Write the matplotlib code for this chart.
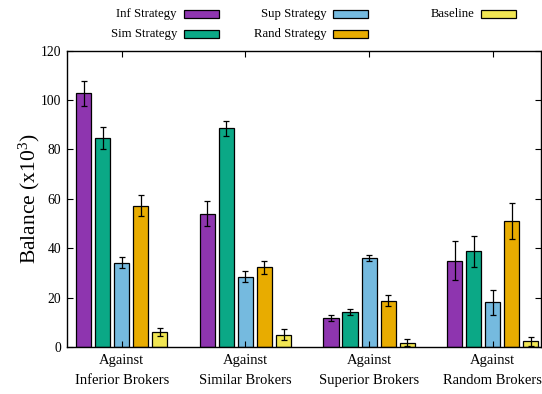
import numpy as np
import matplotlib
matplotlib.use("Agg")
import matplotlib.pyplot as plt
from matplotlib.patches import Rectangle

plt.rcParams["font.family"] = "Liberation Serif"
plt.rcParams["mathtext.fontset"] = "custom"
plt.rcParams["mathtext.rm"] = "Liberation Serif"
plt.rcParams["mathtext.it"] = "Liberation Serif:italic"

groups = ["Against\nInferior Brokers", "Against\nSimilar Brokers",
          "Against\nSuperior Brokers", "Against\nRandom Brokers"]
strategies = ["Inf Strategy", "Sim Strategy", "Sup Strategy", "Rand Strategy", "Baseline"]
colors = ["#8E35AF", "#0BA886", "#75BADF", "#E8AC00", "#F1E653"]

# balance per strategy (x10^3), one value per opponent group
inf_vals = [102.7, 54.0, 11.8, 35.0]
sim_vals = [84.5, 88.5, 14.2, 38.8]
sup_vals = [34.1, 28.4, 36.1, 18.1]
rand_vals = [57.2, 32.2, 18.7, 51.0]
base_vals = [6.1, 5.0, 1.8, 2.3]

inf_err = [5.0, 5.0, 1.2, 7.9]
sim_err = [4.4, 3.0, 1.1, 6.3]
sup_err = [2.3, 2.2, 1.3, 5.1]
rand_err = [4.2, 2.8, 2.2, 7.2]
base_err = [1.6, 2.3, 1.3, 1.7]

values = [inf_vals, sim_vals, sup_vals, rand_vals, base_vals]
errors = [inf_err, sim_err, sup_err, rand_err, base_err]

fig = plt.figure(figsize=(5.42, 3.94), dpi=100)
ax = fig.add_axes([0.1236, 0.1193, 0.8745, 0.7525])

x = np.arange(len(groups))
pitch = 0.154
width = 0.122
for i in range(len(strategies)):
    ax.bar(x + (i - 2) * pitch, values[i], width, color=colors[i],
           edgecolor="black", linewidth=0.9,
           yerr=errors[i], capsize=2.3,
           error_kw=dict(ecolor="black", elinewidth=0.9, capthick=0.9))

ax.set_xlim(-0.443, 3.39)
ax.set_ylim(0, 120)
ax.set_yticks(np.arange(0, 121, 20))
ax.set_xticks(x)
ax.set_xticklabels(groups, fontsize=10.5, linespacing=1.75)
ax.tick_params(axis="x", direction="in", length=4, top=True, pad=5)
ax.tick_params(axis="y", direction="in", length=4, right=True, labelsize=9.8, pad=4)
for s in ax.spines.values():
    s.set_linewidth(1.0)
ax.set_ylabel("Balance (x10$^3$)", fontsize=15.5, labelpad=-1)

# legend: label text to the left of a coloured box, two rows, three columns
W, H = 542.0, 394.0
text_right = [177, 327, 475]
box_left = [184, 333, 481]
row_y = [14, 34]
for i, name in enumerate(strategies):
    col, row = i // 2, i % 2
    fig.text(text_right[col] / W, 1 - row_y[row] / H, name, ha="right", va="center",
             fontsize=9.2)
    fig.add_artist(Rectangle((box_left[col] / W, 1 - (row_y[row] + 4) / H),
                             35 / W, 8 / H, transform=fig.transFigure,
                             facecolor=colors[i], edgecolor="black", linewidth=0.9))

plt.savefig("out.png", dpi=100)
